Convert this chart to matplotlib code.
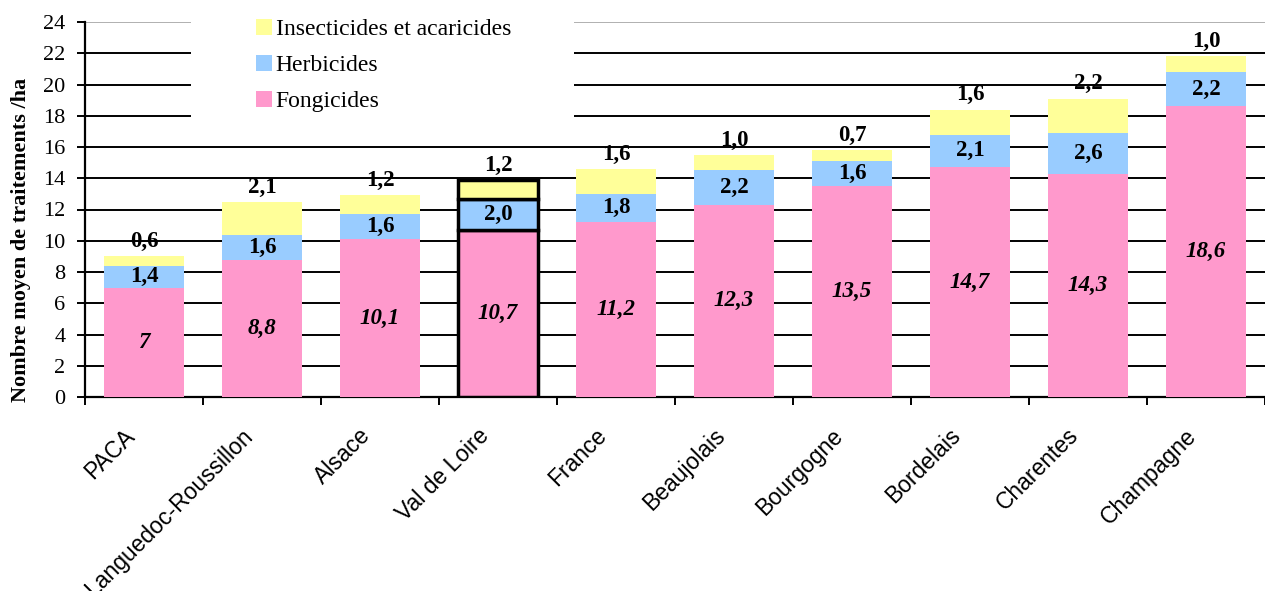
import matplotlib.pyplot as plt
import matplotlib.transforms as mtransforms
import numpy as np
from matplotlib.patches import Rectangle

regions = ['PACA', 'Languedoc-Roussillon', 'Alsace', 'Val de Loire', 'France',
           'Beaujolais', 'Bourgogne', 'Bordelais', 'Charentes', 'Champagne']
fongicides = [7, 8.8, 10.1, 10.7, 11.2, 12.3, 13.5, 14.7, 14.3, 18.6]
herbicides = [1.4, 1.6, 1.6, 2.0, 1.8, 2.2, 1.6, 2.1, 2.6, 2.2]
insecticides = [0.6, 2.1, 1.2, 1.2, 1.6, 1.0, 0.7, 1.6, 2.2, 1.0]
fong_labels = ['7', '8,8', '10,1', '10,7', '11,2', '12,3', '13,5', '14,7', '14,3', '18,6']
herb_labels = ['1,4', '1,6', '1,6', '2,0', '1,8', '2,2', '1,6', '2,1', '2,6', '2,2']
ins_labels = ['0,6', '2,1', '1,2', '1,2', '1,6', '1,0', '0,7', '1,6', '2,2', '1,0']
highlight = 'Val de Loire'

c_fong = '#FF99CC'
c_herb = '#99CCFF'
c_ins = '#FFFF99'
serif = 'Liberation Serif'
sans = 'Liberation Sans'

W, H = 1265, 591
fig = plt.figure(figsize=(W / 100, H / 100), dpi=100)
ax = fig.add_axes([85 / W, 1 - 397 / H, 1180 / W, 375 / H])

x = np.arange(len(regions))
f = np.array(fongicides)
h = np.array(herbicides)
i = np.array(insecticides)
edges = ['black' if r == highlight else 'none' for r in regions]
lws = [2.5 if r == highlight else 0 for r in regions]
w = 0.68

b1 = ax.bar(x, f, w, color=c_fong, edgecolor=edges, linewidth=lws, zorder=3, label='Fongicides')
b2 = ax.bar(x, h, w, bottom=f, color=c_herb, edgecolor=edges, linewidth=lws, zorder=3, label='Herbicides')
b3 = ax.bar(x, i, w, bottom=f + h, color=c_ins, edgecolor=edges, linewidth=lws, zorder=3,
            label='Insecticides et acaricides')

fs = 16.5
for k in range(len(regions)):
    ax.text(x[k], f[k] / 2, fong_labels[k], ha='center', va='center', fontsize=fs,
            fontweight='bold', fontstyle='italic', family=serif, zorder=5)
    ax.text(x[k], f[k] + h[k] / 2, herb_labels[k], ha='center', va='center', fontsize=fs,
            fontweight='bold', family=serif, zorder=5)
    ax.annotate(ins_labels[k], (x[k], f[k] + h[k] + i[k]), xytext=(0, 3), textcoords='offset points',
                ha='center', va='bottom', fontsize=fs, fontweight='bold', family=serif, zorder=5)

ax.set_xlim(-0.5, len(regions) - 0.5)
ax.set_ylim(0, 24)
ax.set_yticks(np.arange(0, 25, 2))
ax.yaxis.grid(True, color='black', linewidth=1.4, zorder=0)
ax.get_ygridlines()[-1].set_color('#b0b0b0')
ax.set_axisbelow(True)

ax.set_xticks(x)
ax.set_xticklabels(regions, rotation=45, ha='right', va='top', rotation_mode='anchor',
                   fontsize=16.5, family=sans)
ax.set_xticks(np.arange(-0.5, len(regions), 1), minor=True)
ax.tick_params(axis='x', which='major', length=0, pad=19.5)
ax.tick_params(axis='x', which='minor', length=6, width=1.4, direction='out')
ax.tick_params(axis='y', length=6, width=1.4, pad=8, labelsize=16)
for t in ax.get_yticklabels():
    t.set_family(serif)
shift = mtransforms.ScaledTranslation(-21 / 100, 0, fig.dpi_scale_trans)
for t in ax.get_xticklabels():
    t.set_transform(t.get_transform() + shift)

for s in ['top', 'right']:
    ax.spines[s].set_visible(False)
ax.spines['left'].set_linewidth(1.6)
ax.spines['bottom'].set_linewidth(1.6)

fig.text(21 / W, 1 - 240 / H, 'Nombre moyen de traitements /ha', rotation=90, ha='center',
         va='center', fontsize=16, fontweight='bold', family=serif)

# white area behind the legend
fig.patches.append(Rectangle((191 / W, 1 - 135 / H), 383 / W, 135 / H, transform=fig.transFigure,
                             facecolor='white', edgecolor='none', zorder=2))
fig.legend(handles=[b3, b2, b1], loc='upper left', bbox_to_anchor=(256 / W, 1 - 19 / H),
           frameon=False, prop={'family': serif, 'size': 17}, handlelength=0.68, handleheight=0.68,
           handletextpad=0.15, labelspacing=0.62, borderpad=0, borderaxespad=0)

fig.savefig('out.png', dpi=100)
